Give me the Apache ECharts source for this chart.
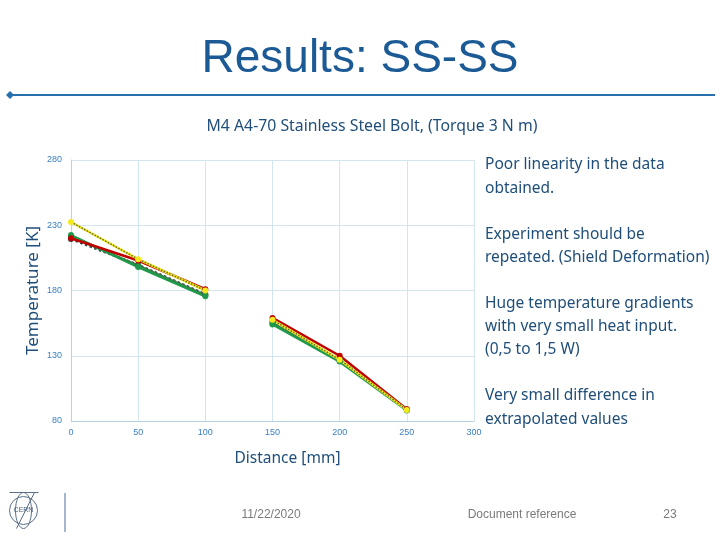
<!DOCTYPE html>
<html>
<head>
<meta charset="utf-8">
<script src="https://cdn.jsdelivr.net/npm/echarts@6/dist/echarts.min.js"></script>
<style>
  html, body { margin: 0; padding: 0; background: #fff; }
  #chart { width: 720px; height: 540px; }
</style>
</head>
<body>
<div id="chart"></div>
<script>
// distances along the bolt [mm]
const distance = [0, 50, 100, 150, 200, 250]
// temperature readings [K], one array per run
const runRed    = [220, 203, 181, 159, 130, 89]
const runYellow = [232.5, 204, 180, 157.5, 127, 88.5]
const runGreen  = [222.5, 198, 175.5, 154, 125.5, 88]
const runDark   = [219.5, 199.5, 177, 156, 127, 88.5]
const runOlive  = [221.5, 199, 176.5, 155, 126, 89]

const xTicks = [0, 50, 100, 150, 200, 250, 300]
const yTicks = [80, 130, 180, 230, 280]

const notes = [
  'Poor linearity in the data',
  'obtained.',
  '',
  'Experiment should be',
  'repeated. (Shield Deformation)',
  '',
  'Huge temperature gradients',
  'with very small heat input.',
  '(0,5 to 1,5 W)',
  '',
  'Very small difference in',
  'extrapolated values',
]

// split each run in two pieces: readings 0-100 and 150-250
function toData(vals) {
  const out = []
  vals.forEach((v, i) => {
    if (i === 3) out.push(['-', '-'])
    out.push([distance[i], v])
  })
  return out
}

function run(name, vals, color, opts = {}) {
  return Object.assign({
    name,
    type: 'line',
    data: toData(vals),
    symbol: 'circle',
    symbolSize: 6,
    connectNulls: false,
    lineStyle: { color, width: 2.5 },
    itemStyle: { color },
  }, opts)
}

const chart = echarts.init(document.getElementById('chart'))

const noteLines = notes.map((t, i) => ({
  type: 'text',
  left: 485,
  top: 157 + i * 23.1,
  style: { text: t, font: '15.5px "Noto Sans"', fill: '#1f4e79', verticalAlign: 'middle' },
}))

const option = {
  animation: false,
  title: {
    text: 'M4 A4-70 Stainless Steel Bolt, (Torque 3 N m)',
    left: 367,
    textAlign: 'center',
    top: 113,
    textStyle: { fontFamily: 'Noto Sans', fontSize: 15.8, fontWeight: 'normal', color: '#1f4e79' },
  },
  grid: { left: 71, right: 246, top: 160, bottom: 119 },
  xAxis: {
    type: 'value',
    min: 0, max: 300, interval: 50,
    name: 'Distance [mm]',
    nameLocation: 'middle',
    nameGap: 30,
    nameTextStyle: { fontFamily: 'Noto Sans', fontSize: 15.5, color: '#1f4e79', padding: [0, 0, 0, 30] },
    axisLine: { lineStyle: { color: '#b7d3e3' } },
    axisTick: { show: false },
    splitLine: { lineStyle: { color: '#d3e5ee' } },
    axisLabel: { fontSize: 9, color: '#3a80c4', margin: 7, formatter: v => xTicks.includes(v) ? v : '' },
  },
  yAxis: {
    type: 'value',
    min: 80, max: 280, interval: 50,
    name: 'Temperature [K]',
    nameLocation: 'middle',
    nameGap: 29,
    nameMoveOverlap: false,
    nameTextStyle: { fontFamily: 'Noto Sans', fontSize: 17, color: '#1f4e79' },
    axisLine: { show: true, lineStyle: { color: '#b7d3e3' } },
    axisTick: { show: false },
    splitLine: { lineStyle: { color: '#d3e5ee' } },
    axisLabel: { fontSize: 9, color: '#3a80c4', margin: 9, formatter: v => yTicks.includes(v) ? v : '' },
  },
  series: [
    run('Run 4', runDark, '#2b3a3a', { lineStyle: { color: '#2b3a3a', width: 2.5, type: 'dotted' } }),
    run('Run 5', runOlive, '#3f7a4a'),
    run('Run 3', runGreen, '#1f9a4a'),
    run('Run 1', runRed, '#c00000'),
    run('Run 2', runYellow, '#f2ea1c'),
    run('Run 2 trend', runYellow, '#6b6a2a', { symbol: 'none', lineStyle: { color: '#6b6a2a', width: 1.5, type: 'dotted' } }),
  ],
  graphic: [
    {
      type: 'text', left: 'center', top: 36,
      style: { text: 'Results: SS-SS', font: '46px "Liberation Sans"', fill: '#1b5a95' },
    },
    {
      type: 'line', shape: { x1: 10, y1: 95, x2: 715, y2: 95 },
      style: { stroke: '#2670ad', lineWidth: 2 },
    },
    {
      type: 'polygon', shape: { points: [[6, 95], [10, 91], [14, 95], [10, 99]] },
      style: { fill: '#2670ad' },
    },
    ...noteLines,
    // footer
    {
      type: 'group', left: 7, top: 490,
      children: [
        { type: 'circle', shape: { cx: 17, cy: 20, r: 14 }, style: { fill: 'none', stroke: '#5a6f8a', lineWidth: 1 } },
        { type: 'ellipse', shape: { cx: 17, cy: 20, rx: 8, ry: 18 }, style: { fill: 'none', stroke: '#5a6f8a', lineWidth: 1 } },
        { type: 'line', shape: { x1: 3, y1: 2, x2: 32, y2: 2 }, style: { stroke: '#5a6f8a', lineWidth: 1 } },
        { type: 'line', shape: { x1: 10, y1: 38, x2: 28, y2: 2 }, style: { stroke: '#5a6f8a', lineWidth: 1 } },
        { type: 'text', x: 17, y: 20, style: { text: 'CERN', font: '7px "Liberation Sans"', fill: '#4a5f7a', align: 'center', verticalAlign: 'middle' } },
      ],
    },
    {
      type: 'line', shape: { x1: 65, y1: 493, x2: 65, y2: 532 },
      style: { stroke: '#4a6f9a', lineWidth: 1 },
    },
    {
      type: 'text', x: 271, y: 515,
      style: { text: '11/22/2020', font: '12px "Liberation Sans Narrow", "Liberation Sans"', fill: '#7a7a7a', align: 'center', verticalAlign: 'middle' },
    },
    {
      type: 'text', x: 522, y: 515,
      style: { text: 'Document reference', font: '12px "Liberation Sans Narrow", "Liberation Sans"', fill: '#7a7a7a', align: 'center', verticalAlign: 'middle' },
    },
    {
      type: 'text', x: 670, y: 515,
      style: { text: '23', font: '12px "Liberation Sans Narrow", "Liberation Sans"', fill: '#7a7a7a', align: 'center', verticalAlign: 'middle' },
    },
  ],
}

chart.setOption(option)
</script>
</body>
</html>
